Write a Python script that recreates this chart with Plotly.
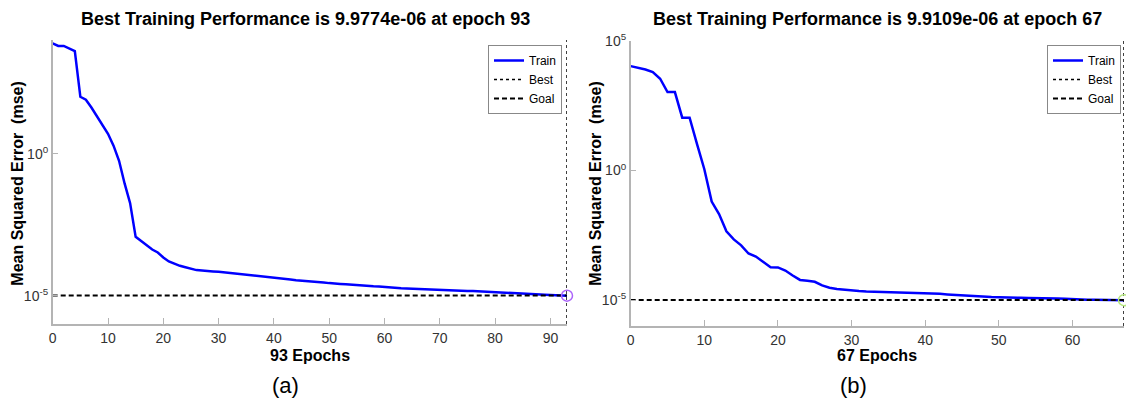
import plotly.graph_objects as go

W, H = 1126, 403

# ---------------- data ----------------
epochs_a = list(range(0, 94))
train_a = [7.6e3, 6.2e3, 6.2e3, 5.0e3, 4.1e3, 1.0e2, 7.9e1, 4.2e1, 2.1e1, 1.0e1,
           5.0, 1.9, 0.56, 0.089, 0.018, 1.17e-3, 8.3e-4, 6.0e-4, 4.2e-4, 3.3e-4,
           2.2e-4, 1.6e-4, 1.3e-4, 1.12e-4, 1.0e-4, 8.7e-5, 7.9e-5, 7.6e-5, 7.2e-5, 7.1e-5,
           6.9e-5, 6.6e-5, 6.3e-5, 6.0e-5, 5.6e-5, 5.4e-5, 5.0e-5, 4.8e-5, 4.6e-5, 4.4e-5,
           4.3e-5, 4.1e-5, 3.9e-5, 3.7e-5, 3.5e-5, 3.4e-5, 3.3e-5, 3.2e-5, 3.0e-5, 2.9e-5,
           2.75e-5, 2.6e-5, 2.57e-5, 2.5e-5, 2.4e-5, 2.34e-5, 2.3e-5, 2.24e-5, 2.14e-5, 2.1e-5,
           2.0e-5, 1.95e-5, 1.9e-5, 1.82e-5, 1.78e-5, 1.74e-5, 1.7e-5, 1.66e-5, 1.62e-5, 1.58e-5,
           1.58e-5, 1.55e-5, 1.51e-5, 1.48e-5, 1.48e-5, 1.45e-5, 1.45e-5, 1.41e-5, 1.38e-5, 1.35e-5,
           1.32e-5, 1.29e-5, 1.26e-5, 1.23e-5, 1.2e-5, 1.17e-5, 1.15e-5, 1.12e-5, 1.1e-5, 1.07e-5,
           1.05e-5, 1.02e-5, 1.01e-5, 9.9774e-6]
best_epoch_a = 93
best_perf_a = 9.9774e-6

epochs_b = list(range(0, 68))
train_b = [1.07e4, 9.3e3, 7.9e3, 6.3e3, 3.5e3, 1.07e3, 1.07e3, 110, 110, 10.7,
           1.12, 0.063, 0.021, 4.5e-3, 2.2e-3, 1.3e-3, 6.3e-4, 4.8e-4, 3.0e-4, 1.86e-4,
           1.82e-4, 1.38e-4, 8.9e-5, 6.0e-5, 5.6e-5, 5.1e-5, 3.7e-5, 3.0e-5, 2.7e-5, 2.5e-5,
           2.4e-5, 2.24e-5, 2.14e-5, 2.1e-5, 2.04e-5, 2.0e-5, 1.95e-5, 1.95e-5, 1.95e-5, 1.9e-5,
           1.9e-5, 1.82e-5, 1.74e-5, 1.66e-5, 1.58e-5, 1.51e-5, 1.48e-5, 1.41e-5, 1.38e-5, 1.32e-5,
           1.29e-5, 1.29e-5, 1.26e-5, 1.23e-5, 1.2e-5, 1.2e-5, 1.17e-5, 1.17e-5, 1.15e-5, 1.12e-5,
           1.07e-5, 1.05e-5, 1.02e-5, 1.02e-5, 1.0e-5, 1.0e-5, 1.0e-5, 9.9109e-6]
best_epoch_b = 67
best_perf_b = 9.9109e-6

goal = 1e-5

yrange_a = [1e-6, 1e4]
yrange_b = [1e-6, 1e5]

xticks_a = [0, 10, 20, 30, 40, 50, 60, 70, 80, 90]
xticks_b = [0, 10, 20, 30, 40, 50, 60]
yticks_a = [1, 1e-5]
yticklabels_a = ["10<sup>0</sup>", "10<sup>-5</sup>"]
yticks_b = [1e5, 1, 1e-5]
yticklabels_b = ["10<sup>5</sup>", "10<sup>0</sup>", "10<sup>-5</sup>"]

titles = ["Best Training Performance is 9.9774e-06 at epoch 93",
          "Best Training Performance is 9.9109e-06 at epoch 67"]
xlabels = ["93 Epochs", "67 Epochs"]
ylabel = "Mean Squared Error  (mse)"
panel_tags = ["(a)", "(b)"]

# ---------------- styling ----------------
SANS = "Liberation Sans, Arial, sans-serif"
AXC = "#b4b4b4"

def px_x(p):
    return p / W

def px_y(p):
    return 1 - p / H

fig = go.Figure()

def add_panel(xs, ys, best_ep, best_perf, yr, xa, ya, legend):
    fig.add_trace(go.Scatter(x=xs, y=ys, mode="lines", name="Train",
                             line=dict(color="#0000ff", width=2.5),
                             xaxis=xa, yaxis=ya, legend=legend))
    fig.add_trace(go.Scatter(x=[best_ep, best_ep], y=yr, mode="lines", name="Best",
                             line=dict(color="black", width=1.5, dash="dot"),
                             xaxis=xa, yaxis=ya, legend=legend, cliponaxis=False))
    fig.add_trace(go.Scatter(x=[0, best_ep], y=[goal, goal], mode="lines", name="Goal",
                             line=dict(color="black", width=2, dash="5px,3px"),
                             xaxis=xa, yaxis=ya, legend=legend))
    fig.add_trace(go.Scatter(x=[best_ep], y=[best_perf], mode="markers", showlegend=False,
                             marker=dict(symbol="circle-open", size=11,
                                         line=dict(color="#0000ff", width=1.5)),
                             xaxis=xa, yaxis=ya, cliponaxis=False))

add_panel(epochs_a, train_a, best_epoch_a, best_perf_a, yrange_a, "x", "y", "legend")
add_panel(epochs_b, train_b, best_epoch_b, best_perf_b, yrange_b, "x2", "y2", "legend2")

common_x = dict(showgrid=False, zeroline=False, showline=True, linecolor=AXC, linewidth=1.5,
                ticks="inside", ticklen=6, tickcolor=AXC, tickwidth=1,
                tickfont=dict(family=SANS, size=14, color="#333"))
common_y = dict(type="log", showgrid=False, zeroline=False, showline=True, linecolor=AXC,
                linewidth=1.5, ticks="inside", ticklen=6, tickcolor=AXC, tickwidth=1,
                tickfont=dict(family=SANS, size=14, color="#333"))

# plot areas in pixel coordinates
A = dict(l=52.7, r=567, t=40, b=324)
B = dict(l=630.7, r=1124, t=41, b=326)

fig.update_layout(
    width=W, height=H,
    margin=dict(l=0, r=0, t=0, b=0, autoexpand=False),
    paper_bgcolor="white", plot_bgcolor="white",
    xaxis=dict(domain=[px_x(A["l"]), px_x(A["r"])], range=[0, best_epoch_a],
               tickvals=xticks_a, anchor="y", **common_x),
    yaxis=dict(domain=[px_y(A["b"]), px_y(A["t"])], range=[-6, 4],
               tickvals=yticks_a, ticktext=yticklabels_a, anchor="x", **common_y),
    xaxis2=dict(domain=[px_x(B["l"]), px_x(B["r"])], range=[0, best_epoch_b],
                tickvals=xticks_b, anchor="y2", **common_x),
    yaxis2=dict(domain=[px_y(B["b"]), px_y(B["t"])], range=[-6, 5],
                tickvals=yticks_b, ticktext=yticklabels_b, anchor="x2", **common_y),
    legend=dict(x=px_x(562), y=px_y(45), xanchor="right", yanchor="top",
                bgcolor="white", bordercolor="#888", borderwidth=1,
                font=dict(family=SANS, size=12, color="black"),
                itemwidth=30, tracegroupgap=0),
    legend2=dict(x=px_x(1121), y=px_y(45), xanchor="right", yanchor="top",
                 bgcolor="white", bordercolor="#888", borderwidth=1,
                 font=dict(family=SANS, size=12, color="black"),
                 itemwidth=30, tracegroupgap=0),
    showlegend=True,
)

ann = []
for i, P in enumerate([A, B]):
    cx = (P["l"] + P["r"]) / 2
    ann.append(dict(text="<b>%s</b>" % titles[i], x=px_x(cx - 4 if i == 0 else cx), y=px_y(19),
                    xref="paper", yref="paper", showarrow=False, xanchor="center", yanchor="middle",
                    font=dict(family=SANS, size=18, color="black")))
    ann.append(dict(text="<b>%s</b>" % xlabels[i], x=px_x(cx), y=px_y(355),
                    xref="paper", yref="paper", showarrow=False, xanchor="center", yanchor="middle",
                    font=dict(family=SANS, size=16, color="black")))
    ann.append(dict(text="<b>%s</b>" % ylabel, x=px_x(P["l"] - 35), y=px_y(183),
                    xref="paper", yref="paper", showarrow=False, textangle=-90,
                    xanchor="center", yanchor="middle",
                    font=dict(family=SANS, size=16, color="black")))
    ann.append(dict(text=panel_tags[i], x=px_x(cx - 24), y=px_y(385),
                    xref="paper", yref="paper", showarrow=False, xanchor="center", yanchor="middle",
                    font=dict(family=SANS, size=22, color="black")))
fig.update_layout(annotations=ann)

fig.write_html("out.html", config={"displayModeBar": False},
               post_script="document.body.style.margin='0px';")
